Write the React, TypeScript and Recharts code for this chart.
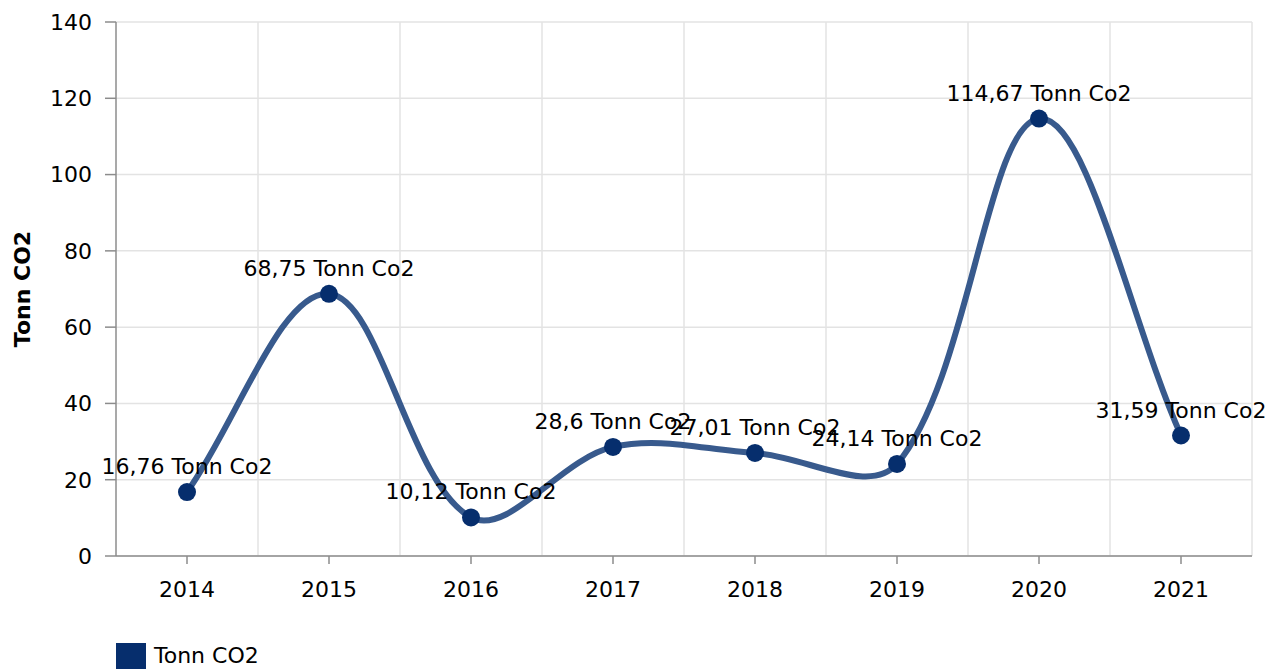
import React from "react"
import {
    LineChart,
    Line,
    XAxis,
    YAxis,
    CartesianGrid,
    LabelList,
} from "recharts"

const YEARS = ["2014", "2015", "2016", "2017", "2018", "2019", "2020", "2021"]
const TONN_CO2 = [16.76, 68.75, 10.12, 28.6, 27.01, 24.14, 114.67, 31.59]
const Y_TICKS = [0, 20, 40, 60, 80, 100, 120, 140]
const SERIES_NAME = "Tonn CO2"
const LABEL_UNIT = "Tonn Co2"

const FONT = "'DejaVu Sans', Verdana, sans-serif"
const FONT_SIZE = 22
const LINE_COLOR = "#385a8d"
const DOT_COLOR = "#062e6d"
const GRID_COLOR = "#e3e3e3"
const AXIS_COLOR = "#8c8c8c"

const data = YEARS.map((year, i) => ({ year, value: TONN_CO2[i] }))

// smooth line: handle lengths follow the length of each neighbouring chord,
// so a short flat step only overshoots a little while a tall step rises fast
const TENSION = 0.35
const chordSpline = (context: any) => {
    let xs: number[] = []
    let ys: number[] = []
    return {
        areaStart() {},
        areaEnd() {},
        lineStart() {
            xs = []
            ys = []
        },
        point(x: number, y: number) {
            xs.push(+x)
            ys.push(+y)
        },
        lineEnd() {
            const n = xs.length
            if (!n) return
            context.moveTo(xs[0], ys[0])
            if (n === 1) return
            const prevCp: number[][] = []
            const nextCp: number[][] = []
            for (let i = 0; i < n; i++) {
                const a = Math.max(i - 1, 0)
                const b = Math.min(i + 1, n - 1)
                const d0 = Math.hypot(xs[i] - xs[a], ys[i] - ys[a])
                const d1 = Math.hypot(xs[b] - xs[i], ys[b] - ys[i])
                const sum = d0 + d1 || 1
                const vx = xs[b] - xs[a]
                const vy = ys[b] - ys[a]
                const fa = (TENSION * d0) / sum
                const fb = (TENSION * d1) / sum
                prevCp[i] = [xs[i] - fa * vx, ys[i] - fa * vy]
                nextCp[i] = [xs[i] + fb * vx, ys[i] + fb * vy]
            }
            for (let i = 1; i < n; i++) {
                context.bezierCurveTo(
                    nextCp[i - 1][0],
                    nextCp[i - 1][1],
                    prevCp[i][0],
                    prevCp[i][1],
                    xs[i],
                    ys[i]
                )
            }
        },
    }
}

const fmt = (v: any) => `${String(v).replace(".", ",")} ${LABEL_UNIT}`

const YTitle = ({ viewBox }: any) => {
    const cx = 22
    const cy = viewBox.y + viewBox.height / 2
    return (
        <text
            x={cx}
            y={cy}
            transform={`rotate(-90, ${cx}, ${cy})`}
            textAnchor="middle"
            dominantBaseline="central"
            fontFamily={FONT}
            fontSize={FONT_SIZE}
            fontWeight="bold"
            fill="#000"
        >
            {SERIES_NAME}
        </text>
    )
}

export default function App() {
    const tickStyle = { fontFamily: FONT, fontSize: FONT_SIZE, fill: "#000" }
    return (
        <div style={{ position: "absolute", left: 0, top: 0, width: 1269, height: 669, background: "#fff" }}>
            <LineChart
                width={1269}
                height={669}
                data={data}
                margin={{ top: 22, right: 17, bottom: 0, left: 0 }}
            >
                <CartesianGrid
                    stroke={GRID_COLOR}
                    strokeWidth={1.5}
                    verticalCoordinatesGenerator={({ offset }: any) =>
                        YEARS.map((_, i) => offset.left + ((i + 1) * offset.width) / YEARS.length)
                    }
                />
                <XAxis
                    dataKey="year"
                    scale="band"
                    height={113}
                    tickSize={8}
                    tickMargin={17}
                    interval={0}
                    axisLine={{ stroke: AXIS_COLOR, strokeWidth: 1.5 }}
                    tickLine={{ stroke: AXIS_COLOR, strokeWidth: 1.5 }}
                    tick={tickStyle}
                />
                <YAxis
                    width={116}
                    domain={[0, 140]}
                    ticks={Y_TICKS}
                    interval={0}
                    tickSize={11}
                    tickMargin={13}
                    axisLine={{ stroke: AXIS_COLOR, strokeWidth: 1.5 }}
                    tickLine={{ stroke: AXIS_COLOR, strokeWidth: 1.5 }}
                    tick={tickStyle}
                    label={{ content: YTitle }}
                />
                <Line
                    dataKey="value"
                    name={SERIES_NAME}
                    type={chordSpline as any}
                    stroke={LINE_COLOR}
                    strokeWidth={6}
                    dot={{ r: 9, fill: DOT_COLOR, stroke: DOT_COLOR, strokeWidth: 0 }}
                    activeDot={false}
                    isAnimationActive={false}
                >
                    <LabelList
                        dataKey="value"
                        position="top"
                        offset={18}
                        formatter={fmt}
                        fill="#000"
                        fontFamily={FONT}
                        fontSize={FONT_SIZE}
                    />
                </Line>
            </LineChart>

            <div
                style={{
                    position: "absolute",
                    left: 116,
                    top: 643,
                    display: "flex",
                    alignItems: "flex-start",
                    fontFamily: FONT,
                    fontSize: FONT_SIZE,
                    color: "#000",
                }}
            >
                <div style={{ width: 30, height: 26, background: DOT_COLOR, marginRight: 8 }} />
                <span style={{ lineHeight: "26px" }}>{SERIES_NAME}</span>
            </div>
        </div>
    )
}
